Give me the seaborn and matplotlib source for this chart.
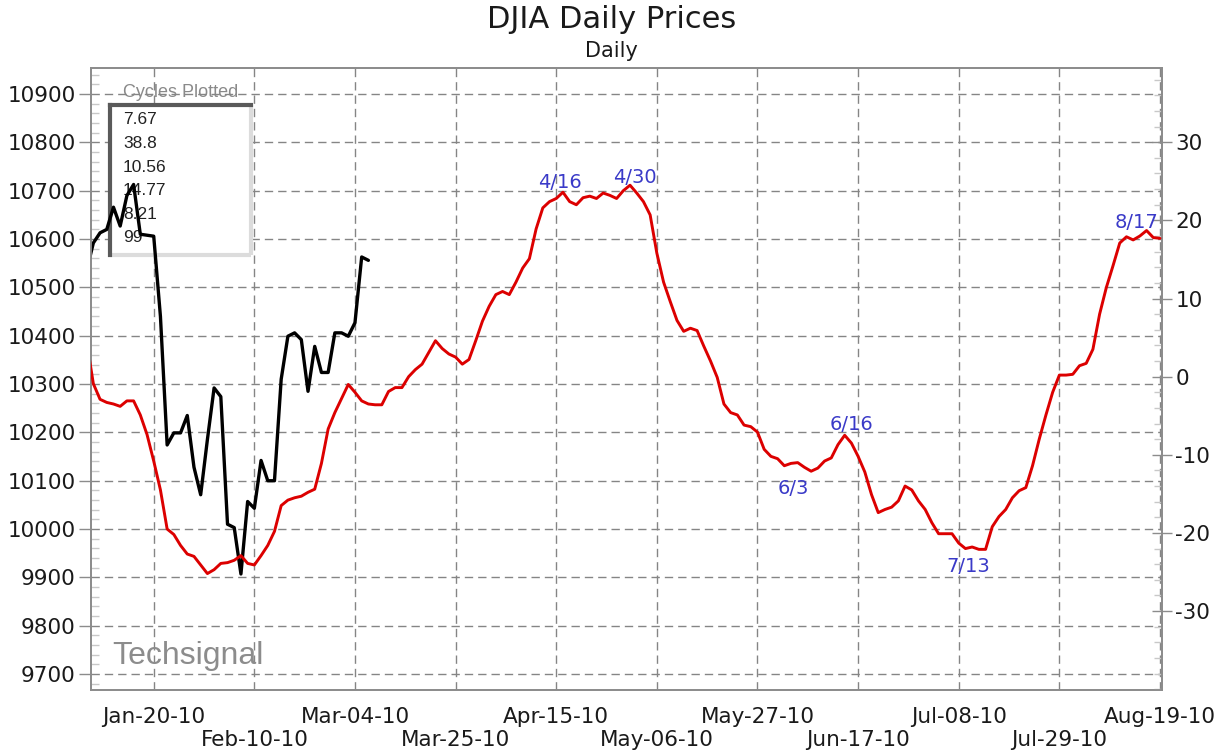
import numpy as np
import matplotlib
matplotlib.use("Agg")
import matplotlib.pyplot as plt
import seaborn as sns
from matplotlib.patches import Rectangle
from matplotlib.lines import Line2D
from matplotlib.ticker import MultipleLocator, FixedLocator

# ---------------- data ----------------
# DJIA daily close (left axis), one value per trading bar from Jan-06-10
djia_close = [10535, 10592, 10613, 10620, 10666, 10627, 10690, 10713, 10610, 10608,
              10606, 10440, 10174, 10199, 10199, 10235, 10128, 10071, 10185, 10292,
              10274, 10010, 10003, 9907, 10057, 10043, 10142, 10100, 10100, 10310,
              10399, 10406, 10392, 10285, 10378, 10324, 10324, 10406, 10406, 10399,
              10427, 10563, 10556]

# Cycle composite (right axis), one value per trading bar from Jan-06-10
cycle_composite = [4.5, -0.9, -2.9, -3.3, -3.5, -3.8, -3.1, -3.1, -4.9, -7.4,
                   -10.8, -14.5, -19.5, -20.2, -21.6, -22.7, -23.0, -24.1, -25.2, -24.7,
                   -23.9, -23.8, -23.5, -22.9, -23.9, -24.1, -22.9, -21.6, -19.8, -16.5,
                   -15.8, -15.5, -15.3, -14.8, -14.4, -11.1, -6.7, -4.6, -2.8, -1.0,
                   -2.0, -3.1, -3.5, -3.6, -3.6, -1.9, -1.4, -1.4, 0.0, 0.9,
                   1.6, 3.1, 4.6, 3.6, 2.9, 2.5, 1.6, 2.2, 4.6, 7.1,
                   9.0, 10.5, 10.9, 10.5, 12.1, 13.9, 15.1, 18.9, 21.6, 22.4,
                   22.8, 23.6, 22.4, 22.0, 22.9, 23.1, 22.8, 23.5, 23.2, 22.8,
                   23.8, 24.5, 23.5, 22.4, 20.7, 15.8, 12.1, 9.6, 7.2, 5.8,
                   6.2, 5.9, 3.9, 2.0, -0.1, -3.5, -4.6, -4.9, -6.2, -6.4,
                   -7.1, -9.3, -10.2, -10.5, -11.4, -11.1, -11.0, -11.6, -12.1, -11.7,
                   -10.8, -10.4, -8.7, -7.5, -8.5, -10.2, -12.2, -15.1, -17.4, -17.0,
                   -16.7, -15.9, -14.0, -14.5, -15.9, -17.0, -18.7, -20.1, -20.1, -20.1,
                   -21.3, -22.0, -21.8, -22.1, -22.1, -19.2, -17.9, -17.0, -15.5, -14.6,
                   -14.2, -11.4, -8.0, -4.9, -2.0, 0.2, 0.2, 0.3, 1.4, 1.7,
                   3.5, 8.0, 11.4, 14.2, 17.1, 17.9, 17.5, 18.0, 18.7, 17.8,
                   17.7]

# date labels, one every 15 bars starting at bar 10
tick_labels = ["Jan-20-10", "Feb-10-10", "Mar-04-10", "Mar-25-10", "Apr-15-10",
               "May-06-10", "May-27-10", "Jun-17-10", "Jul-08-10", "Jul-29-10",
               "Aug-19-10"]
first_tick_bar = 10
bars_per_tick = 15

left_ticks = [9700, 9800, 9900, 10000, 10100, 10200, 10300, 10400, 10500,
              10600, 10700, 10800, 10900]
right_ticks = [-30, -20, -10, 0, 10, 20, 30]

cycles_plotted = ["7.67", "38.8", "10.56", "14.77", "8.21", "99"]

turn_labels = ["4/16", "4/30", "6/3", "6/16", "7/13", "8/17"]
turn_bars = [71, 81, 105, 113, 133, 158]

# ---------------- style ----------------
sns.set_style("white")
plt.rcParams["font.family"] = ["DejaVu Sans"]
plt.rcParams["axes.unicode_minus"] = False

W, H = 1222, 753
fig = plt.figure(figsize=(W / 100, H / 100), dpi=100)
fig.patch.set_facecolor("white")

L, R, T, B = 91, 1162, 68, 690
ax = fig.add_axes([L / W, 1 - B / H, (R - L) / W, (B - T) / H])
ax2 = ax.twinx()

bars = np.arange(len(cycle_composite))
tick_pos = first_tick_bar + bars_per_tick * np.arange(len(tick_labels))

grid_kw = dict(color="#858585", linestyle=(0, (6, 3.6)), linewidth=1.0)
red = "#dc0000"
blue = "#3a3ac8"

# lines
sns.lineplot(x=bars[:len(djia_close)], y=djia_close, ax=ax, color="black",
             linewidth=2.4, zorder=3)
sns.lineplot(x=bars, y=cycle_composite, ax=ax2, color=red, linewidth=2.1, zorder=3)

ax.set_xlabel("")
ax.set_ylabel("")
ax2.set_ylabel("")

# x ticks: alternate rows -> major for even, minor for odd
ax.set_xticks(tick_pos[0::2])
ax.set_xticklabels(tick_labels[0::2])
ax.set_xticks(tick_pos[1::2], minor=True)
ax.set_xticklabels(tick_labels[1::2], minor=True)
ax.tick_params(axis="x", which="both", direction="out", length=9.5, width=1,
               color="#8c8c8c", labelsize=15.5, labelcolor="#1a1a1a")
ax.tick_params(axis="x", which="major", pad=3)
ax.tick_params(axis="x", which="minor", pad=19)

# left y ticks
ax.yaxis.set_major_locator(FixedLocator(left_ticks))
ax.yaxis.set_minor_locator(MultipleLocator(20))
ax.tick_params(axis="y", which="major", direction="out", length=9, width=1,
               color="#8c8c8c", labelsize=15.5, labelcolor="#1a1a1a", pad=2)
ax.tick_params(axis="y", which="minor", direction="in", length=6, width=1,
               color="#c8c8c8")

# right y ticks
ax2.yaxis.set_major_locator(FixedLocator(right_ticks))
ax2.yaxis.set_minor_locator(MultipleLocator(2))
ax2.tick_params(axis="y", which="major", direction="inout", length=15, width=1,
                color="#8c8c8c", labelsize=15.5, labelcolor="#1a1a1a", pad=2)
ax2.tick_params(axis="y", which="minor", direction="in", length=6, width=1,
                color="#c8c8c8")

# limits (after ticks so they are not expanded)
ax.set_xlim(0.65, 160.3)
ax.set_ylim(9667, 10954)
ax2.set_ylim(-40.1, 39.5)

# grid
ax.set_axisbelow(True)
ax.xaxis.grid(True, which="both", **grid_kw)
ax.yaxis.grid(True, which="major", **grid_kw)
ax2.grid(False)

for a in (ax, ax2):
    for s in a.spines.values():
        s.set_color("#8c8c8c")
        s.set_linewidth(1.3)

# titles
fig.text(612 / W, 1 - 20 / H, "DJIA Daily Prices", ha="center", va="center",
         fontsize=22, color="#1a1a1a")
fig.text(611 / W, 1 - 51 / H, "Daily", ha="center", va="center",
         fontsize=15, color="#1a1a1a")

# "Cycles Plotted" box
def axfx(px):
    return (px - L) / (R - L)

def axfy(py):
    return (B - py) / (B - T)

x0, x1 = axfx(110), axfx(251)
y0, y1 = axfy(255), axfy(105)
ax.add_patch(Rectangle((x0, y0), x1 - x0, y1 - y0, transform=ax.transAxes,
                       facecolor="white", edgecolor="none", zorder=2.4))
ax.add_line(Line2D([x1, x1], [y0, y1], transform=ax.transAxes, color="#dcdcdc",
                   linewidth=3.0, zorder=2.5, solid_capstyle="butt"))
ax.add_line(Line2D([x0, x1], [y0, y0], transform=ax.transAxes, color="#dcdcdc",
                   linewidth=3.0, zorder=2.5, solid_capstyle="butt"))
ax.add_line(Line2D([x0, x0], [y0, y1], transform=ax.transAxes, color="#5a5a5a",
                   linewidth=3.0, zorder=2.6, solid_capstyle="projecting"))
ax.add_line(Line2D([x0, x1], [y1, y1], transform=ax.transAxes, color="#5a5a5a",
                   linewidth=3.0, zorder=2.6, solid_capstyle="projecting"))
ax.text(axfx(181), axfy(93), "Cycles Plotted", transform=ax.transAxes,
        ha="center", va="center", fontsize=13, color="#8a8a8a",
        family=["Liberation Sans", "DejaVu Sans"], zorder=0.4)
for i, s in enumerate(cycles_plotted):
    ax.text(axfx(123), axfy(120 + i * 23.6), s, transform=ax.transAxes,
            ha="left", va="center", fontsize=12.5, color="#222222",
            family=["Liberation Sans", "DejaVu Sans"], zorder=2.7)

# watermark
ax.text(axfx(112), axfy(656), "Techsignal", transform=ax.transAxes,
        ha="left", va="center", fontsize=23, color="#8c8c8c",
        family=["Liberation Sans", "DejaVu Sans"], zorder=2)

# turn annotations
offsets = [(-2.2, 6.8), (3.5, 5.2), (2.0, -17.8), (5.0, 7.6), (-7.9, -12.4), (-6.9, 5.5)]
for lab, d, (dx, dy) in zip(turn_labels, turn_bars, offsets):
    ax2.annotate(lab, xy=(d, cycle_composite[d]), xytext=(dx, dy),
                 textcoords="offset points", ha="center", va="center",
                 fontsize=14, color=blue, zorder=4)

fig.savefig("out.png", dpi=100, facecolor="white")
